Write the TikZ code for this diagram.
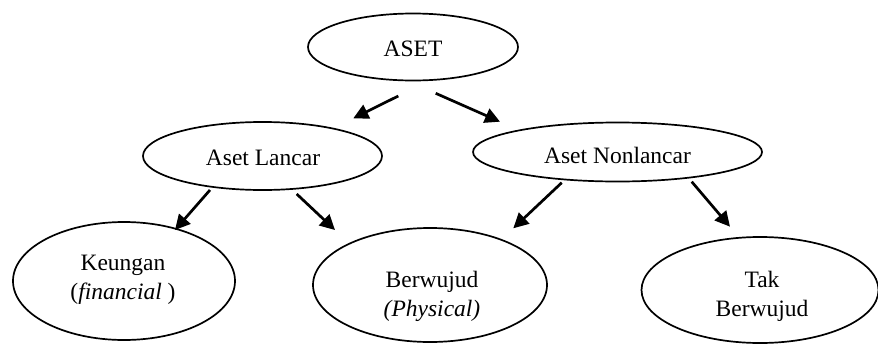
\documentclass[tikz,border=0pt]{standalone}
\usepackage{fontspec}
\setmainfont{Liberation Serif}
\usetikzlibrary{shapes.geometric,arrows.meta,calc}

\tikzset{
  oval/.style={ellipse, draw=black, line width=1.7pt, inner sep=0pt, outer sep=0pt},
  txt/.style={inner sep=0pt, align=center, font=\fontsize{23.5}{29}\selectfont},
  arr/.style={line width=2.7pt, -{Triangle[length=15pt,width=15pt]}}
}

\begin{document}
\begin{tikzpicture}[x=1pt, y=-1pt]
  \useasboundingbox (0,0) rectangle (878,343);

  % top level
  \node[oval, minimum width=210pt, minimum height=67pt] (aset) at (413,47) {};
  \node[txt] (aset-t) at (413,49) {ASET};

  % second level
  \node[oval, minimum width=239pt, minimum height=68pt] (lancar) at (262.5,156) {};
  \node[txt] (lancar-t) at (263,157.5) {Aset Lancar};
  \node[oval, minimum width=289pt, minimum height=59pt] (nonlancar) at (617.5,152) {};
  \node[txt] (nonlancar-t) at (617.5,155) {Aset Nonlancar};

  % third level
  \node[oval, minimum width=222pt, minimum height=118pt] (keuangan) at (124,281) {};
  \node[txt] (keuangan-t) at (123,279.5) {Keungan\\(\textit{financial} )};
  \node[oval, minimum width=234pt, minimum height=114pt] (berwujud) at (430,285) {};
  \node[txt] (berwujud-t) at (432,296.5) {Berwujud\\\textit{(Physical)}};
  \node[oval, minimum width=237pt, minimum height=106pt] (takberwujud) at (760,290) {};
  \node[txt] (takberwujud-t) at (762,296) {Tak\\Berwujud};

  % connectors
  \draw[arr] ($(aset.south)+(-14.7,15.5)$) -- ($(lancar.north)+(90.8,-3.7)$);
  \draw[arr] ($(aset.south)+(22.7,12.8)$) -- ($(nonlancar.north)+(-117.5,-0.8)$);
  \draw[arr] ($(lancar.south)+(-52.5,0)$) -- ($(keuangan.north)+(51,8)$);
  \draw[arr] ($(lancar.south)+(34.2,4)$) -- ($(berwujud.north)+(-95,2)$);
  \draw[arr] ($(nonlancar.south)+(-55.8,1.2)$) -- ($(berwujud.north)+(83.3,0.3)$);
  \draw[arr] ($(nonlancar.south)+(74.2,0.2)$) -- ($(takberwujud.north)+(-30,-10.3)$);
\end{tikzpicture}
\end{document}
